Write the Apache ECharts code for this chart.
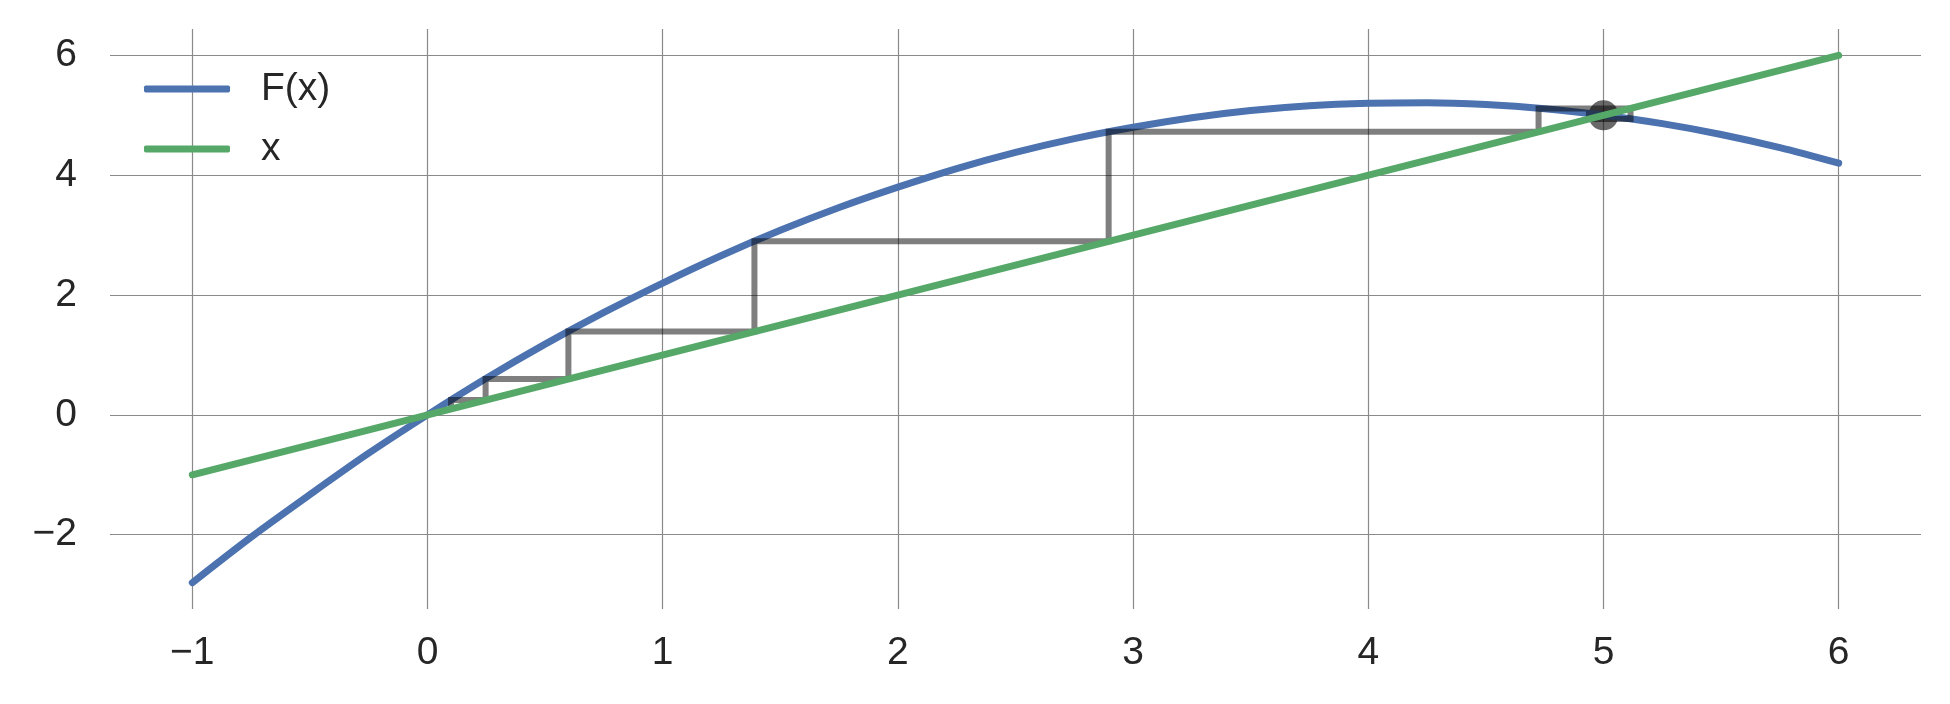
<!DOCTYPE html>
<html>
<head>
<meta charset="utf-8">
<script src="https://cdn.jsdelivr.net/npm/echarts@6/dist/echarts.min.js"></script>
<style>html,body{margin:0;padding:0;background:#fff}#c{width:1950px;height:704px}</style>
</head>
<body>
<div id="c"></div>
<script>
// F(x) curve samples
const fX = [-1, -0.75, -0.5, -0.25, 0, 0.25, 0.5, 0.75, 1, 1.25, 1.5, 1.75, 2, 2.25, 2.5, 2.75, 3, 3.25, 3.5, 3.75, 4, 4.25, 4.5, 4.75, 5, 5.25, 5.5, 5.75, 6];
const fY = [-2.8, -2.04, -1.33, -0.64, 0, 0.61, 1.18, 1.71, 2.2, 2.66, 3.08, 3.46, 3.8, 4.11, 4.38, 4.61, 4.8, 4.96, 5.08, 5.16, 5.2, 5.21, 5.18, 5.11, 5.0, 4.86, 4.68, 4.46, 4.2];
// identity line endpoints
const idX = [-1, 6];
const idY = [-1, 6];
// cobweb iterates
const iterates = [0.1, 0.247, 0.599, 1.39, 2.896, 4.724, 5.115, 4.938, 5.03, 4.985, 5.008];
// fixed point
const fixedPoint = [5, 5];
// ticks
const xTicks = [-1, 0, 1, 2, 3, 4, 5, 6];
const yTicks = [-2, 0, 2, 4, 6];

const fData = fX.map((x, i) => [x, fY[i]]);
const idData = idX.map((x, i) => [x, idY[i]]);
const cob = [];
for (let i = 0; i < iterates.length - 1; i++) {
  const a = iterates[i], b = iterates[i + 1];
  if (i === 0) cob.push([a, a]);
  cob.push([a, b]);
  cob.push([b, b]);
}

const fmt = v => (v < 0 ? '\u2212' + Math.abs(v) : String(v));
const FONT = 'Liberation Sans, Arial, sans-serif';
const TXT = '#262626';
const GRID = '#8a8a8a';
const FS = 39;

const chart = echarts.init(document.getElementById('c'), null, {renderer: 'canvas'});
chart.setOption({
  animation: false,
  backgroundColor: '#ffffff',
  grid: {left: 110, right: 29, top: 29, bottom: 95, containLabel: false},
  legend: {
    left: 139, top: 64, orient: 'vertical', itemGap: 20,
    icon: 'roundRect', itemWidth: 86, itemHeight: 7,
    textStyle: {fontFamily: FONT, fontSize: FS, lineHeight: 40, color: TXT, padding: [0, 0, 0, 26]},
    data: ['F(x)', 'x']
  },
  xAxis: {
    type: 'value', min: -1.35, max: 6.35,
    axisLine: {show: false},
    axisTick: {show: false, customValues: xTicks},
    axisLabel: {customValues: xTicks, formatter: fmt, fontFamily: FONT, fontSize: FS, color: TXT, margin: 25},
    splitLine: {show: true, lineStyle: {color: GRID, width: 1.2}}
  },
  yAxis: {
    type: 'value', min: -3.24, max: 6.44,
    axisLine: {show: false},
    axisTick: {show: false, customValues: yTicks},
    axisLabel: {customValues: yTicks, formatter: fmt, fontFamily: FONT, fontSize: FS, color: TXT, margin: 33},
    splitLine: {show: true, lineStyle: {color: GRID, width: 1.2}}
  },
  series: [
    {name: 'F(x)', type: 'line', data: fData, smooth: 0.3, showSymbol: false, symbol: 'none',
     lineStyle: {color: '#4C72B0', width: 7, cap: 'round'}, itemStyle: {color: '#4C72B0'}},
    {name: 'cobweb', type: 'line', data: cob, showSymbol: false, symbol: 'none',
     lineStyle: {color: 'rgba(0,0,0,0.5)', width: 6, join: 'miter'}},
    {name: 'fixed', type: 'scatter', data: [fixedPoint], symbolSize: 30,
     itemStyle: {color: 'rgba(15,15,15,0.78)'}},
    {name: 'x', type: 'line', data: idData, showSymbol: false, symbol: 'none',
     lineStyle: {color: '#55A868', width: 7, cap: 'round'}, itemStyle: {color: '#55A868'}}
  ]
});
</script>
</body>
</html>
